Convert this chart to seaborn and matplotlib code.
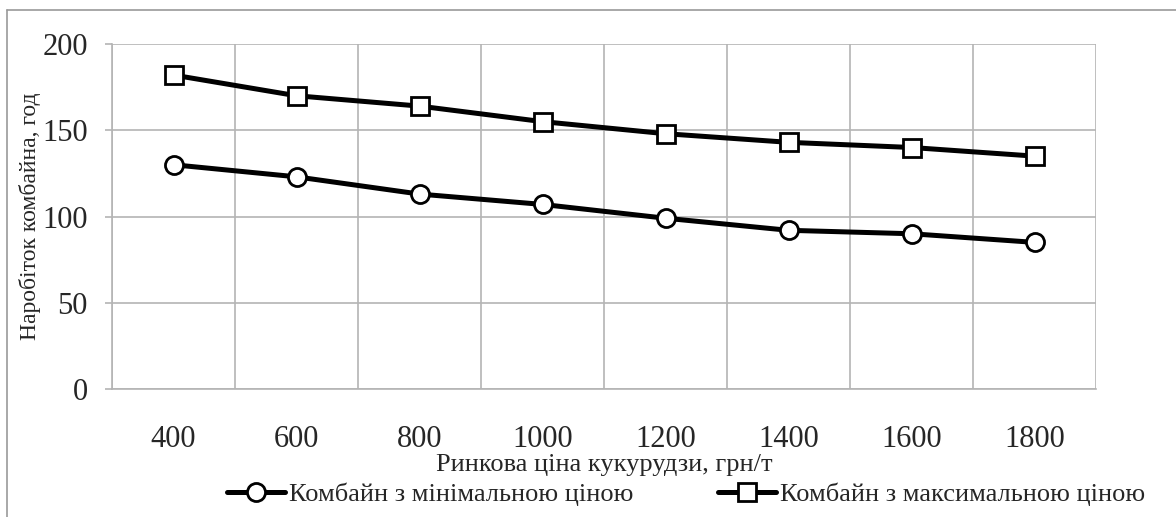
import numpy as np
import pandas as pd
import matplotlib
matplotlib.use("Agg")
import matplotlib.pyplot as plt
import seaborn as sns

# Дані графіка
prices = ["400", "600", "800", "1000", "1200", "1400", "1600", "1800"]
hours_min = [130, 123, 113, 107, 99, 92, 90, 85]
hours_max = [182, 170, 164, 155, 148, 143, 140, 135]
series_names = ["Комбайн з мінімальною ціною", "Комбайн з максимальною ціною"]
y_ticks = [0, 50, 100, 150, 200]

sns.set_theme(style="white")
plt.rcParams['font.family'] = ['Liberation Serif', 'DejaVu Serif']

df = pd.DataFrame({
    "price": prices * 2,
    "hours": hours_min + hours_max,
    "series": [series_names[0]] * len(prices) + [series_names[1]] * len(prices),
})

fig = plt.figure(figsize=(11.76, 5.17), dpi=100)
ax = fig.add_axes([112 / 1176, 1 - 389 / 517, (1096 - 112) / 1176, (389 - 44) / 517])

grid_c = "#b4b4b4"

sns.lineplot(data=df, x="price", y="hours", style="series", markers=["o", "s"],
             dashes=False, color="black", linewidth=3.6, markersize=13,
             markerfacecolor="white", markeredgecolor="black", markeredgewidth=2,
             ax=ax, legend=False)

ax.set_xlim(-0.5, len(prices) - 0.5)
ax.set_ylim(0, 200)
ax.set_yticks(y_ticks)
ax.set_xticks(range(len(prices)))
ax.set_xticklabels(prices)
ax.set_xticks(np.arange(-0.5, len(prices)), minor=True)

ax.grid(False)
ax.grid(True, which="minor", axis="x", color=grid_c, linewidth=1.2)
ax.grid(True, which="major", axis="y", color=grid_c, linewidth=1.2)
ax.set_axisbelow(True)

for s in ["top", "right"]:
    ax.spines[s].set_visible(False)
for s in ["left", "bottom"]:
    ax.spines[s].set_color(grid_c)
    ax.spines[s].set_linewidth(1.2)

ax.tick_params(axis="x", which="major", length=0, pad=26, labelsize=22)
ax.tick_params(axis="x", which="minor", length=8, width=1.2, color=grid_c, direction="out")
ax.tick_params(axis="y", which="major", length=5, width=1.2, color=grid_c, pad=12.5, labelsize=22, left=True)

ax.set_xlabel("Ринкова ціна кукурудзи, грн/т", fontsize=19)
ax.xaxis.set_label_coords(0.5, -0.187)
ax.set_ylabel("Наробіток комбайна, год", fontsize=17)
ax.yaxis.set_label_coords(-0.072, 0.5)

handles = [
    plt.Line2D([], [], color="black", linewidth=3.6, marker=m, markersize=13,
               markerfacecolor="white", markeredgecolor="black", markeredgewidth=2)
    for m in ["o", "s"]
]
fig.legend(handles, series_names, loc="center", bbox_to_anchor=(686 / 1176, 1 - 494 / 517),
           ncol=2, frameon=False, fontsize=19, handlelength=2.2, handletextpad=0.15,
           columnspacing=3.2, borderpad=0, borderaxespad=0)

# рамка навколо графіка
fig.add_artist(plt.Line2D([7 / 1176, 7 / 1176], [0, 1 - 10 / 517], transform=fig.transFigure,
                          color="#999999", linewidth=1.2))
fig.add_artist(plt.Line2D([7 / 1176, 1], [1 - 10 / 517, 1 - 10 / 517], transform=fig.transFigure,
                          color="#999999", linewidth=1.2))

fig.savefig("out.png", dpi=100)
